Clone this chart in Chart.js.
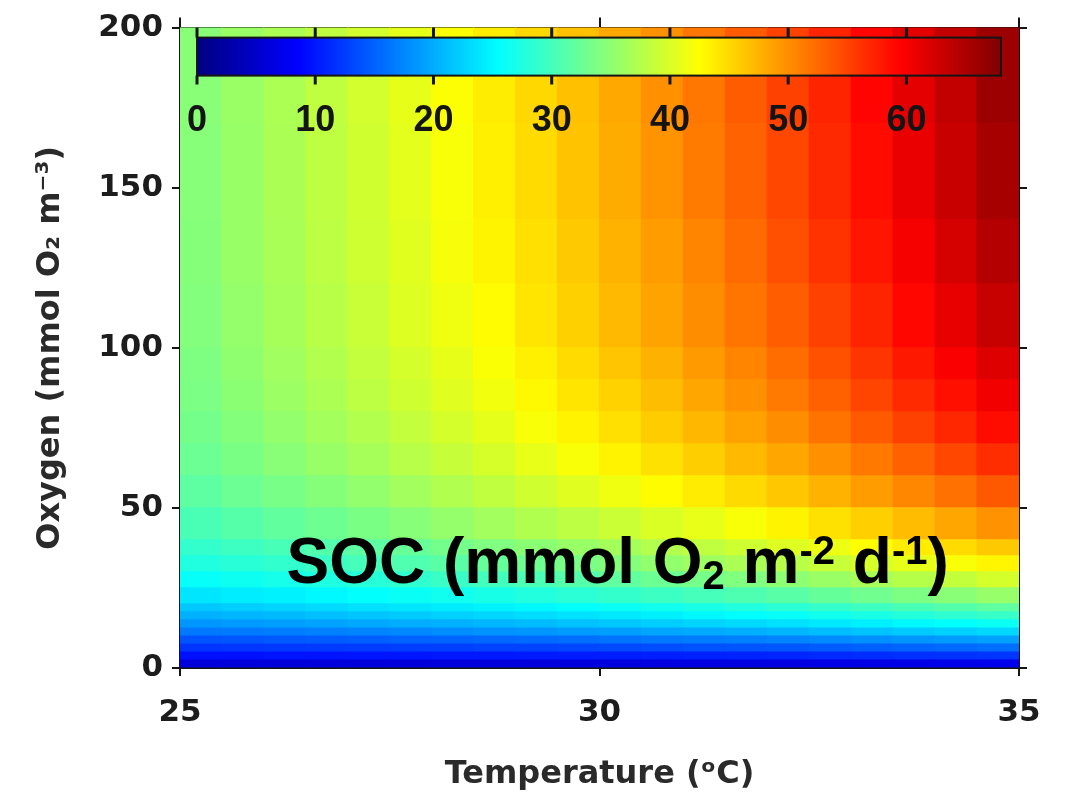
<!DOCTYPE html>
<html>
<head>
<meta charset="utf-8">
<script src="https://cdn.jsdelivr.net/npm/chart.js@4.4.1/dist/chart.umd.min.js"></script>
<style>
  html, body { margin: 0; padding: 0; background: #ffffff; }
  #wrap { width: 1071px; height: 794px; }
</style>
</head>
<body>
<div id="wrap"><canvas id="c" width="1071" height="794"></canvas></div>
<script>
// ---- data ----
const temperatureCenters = [25.25, 25.75, 26.25, 26.75, 27.25, 27.75, 28.25, 28.75, 29.25, 29.75,
                            30.25, 30.75, 31.25, 31.75, 32.25, 32.75, 33.25, 33.75, 34.25, 34.75];
const oxygenBandLow  = [0, 2.5, 5, 7.5, 10, 12.5, 15, 17.5, 20, 25, 30, 35, 40, 50, 60, 70, 80, 90, 100, 120, 140, 170];
const oxygenBandHigh = [2.5, 5, 7.5, 10, 12.5, 15, 17.5, 20, 25, 30, 35, 40, 50, 60, 70, 80, 90, 100, 120, 140, 170, 200];
// SOC (mmol O2 m-2 d-1): one row per oxygen band (bottom to top), one value per temperature column
const socGrid = [
  [6.0,6.0,6.0,6.1,6.1,6.1,6.2,6.2,6.2,6.3,6.3,6.4,6.4,6.5,6.6,6.7,6.8,6.9,7.0,7.2],
  [9.6,9.6,9.7,9.7,9.8,9.9,10.0,10.1,10.2,10.3,10.4,10.5,10.7,10.8,11.0,11.2,11.4,11.6,11.8,12.0],
  [12.0,12.1,12.2,12.3,12.4,12.6,12.7,12.9,13.0,13.2,13.4,13.6,13.9,14.1,14.3,14.6,14.9,15.2,15.5,15.8],
  [14.1,14.2,14.4,14.6,14.8,15.0,15.2,15.4,15.7,15.9,16.2,16.5,16.8,17.0,17.3,17.7,18.1,18.5,18.8,19.2],
  [16.5,16.7,16.9,17.1,17.4,17.6,17.9,18.2,18.5,18.8,19.1,19.5,19.8,20.2,20.6,21.1,21.5,22.0,22.4,22.9],
  [18.5,18.8,19.0,19.4,19.7,20.0,20.3,20.7,21.0,21.4,21.8,22.2,22.6,23.0,23.4,24.0,24.5,25.1,25.6,26.2],
  [20.3,20.6,20.9,21.3,21.6,22.0,22.4,22.8,23.2,23.6,24.0,24.5,25.0,25.5,26.0,26.6,27.2,27.9,28.5,29.2],
  [21.8,22.2,22.6,23.0,23.4,23.8,24.2,24.7,25.1,25.6,26.1,26.6,27.2,27.7,28.3,29.0,29.7,30.4,31.1,31.9],
  [23.8,24.2,24.6,25.1,25.6,26.1,26.6,27.1,27.7,28.3,28.9,29.5,30.1,30.7,31.4,32.2,33.0,33.8,34.6,35.5],
  [25.9,26.4,26.9,27.5,28.1,28.7,29.3,29.9,30.5,31.2,31.9,32.6,33.4,34.1,34.9,35.8,36.7,37.6,38.6,39.6],
  [27.6,28.2,28.8,29.4,30.1,30.8,31.5,32.2,32.9,33.6,34.4,35.2,36.1,36.9,37.8,38.8,39.9,40.9,42.0,43.1],
  [28.9,29.6,30.3,31.0,31.7,32.4,33.2,34.0,34.8,35.6,36.5,37.4,38.3,39.2,40.2,41.3,42.5,43.7,44.9,46.1],
  [30.4,31.2,32.0,32.8,33.6,34.5,35.4,36.3,37.2,38.0,39.0,40.0,41.0,42.1,43.2,44.5,45.7,47.0,48.4,49.8],
  [31.7,32.6,33.5,34.4,35.3,36.3,37.3,38.3,39.4,40.4,41.5,42.7,43.8,45.0,46.2,47.6,49.1,50.5,52.0,53.6],
  [32.6,33.6,34.6,35.6,36.6,37.7,38.7,39.8,41.0,42.1,43.3,44.5,45.8,47.1,48.4,49.9,51.5,53.1,54.8,56.5],
  [33.2,34.3,35.3,36.4,37.4,38.5,39.6,40.8,42.0,43.3,44.6,45.9,47.3,48.7,50.1,51.8,53.5,55.2,56.9,58.7],
  [33.7,34.8,35.9,37.0,38.0,39.2,40.4,41.6,42.9,44.2,45.5,46.9,48.4,49.9,51.4,53.1,54.9,56.7,58.5,60.4],
  [33.9,35.1,36.2,37.4,38.5,39.7,40.9,42.2,43.5,44.9,46.3,47.7,49.2,50.7,52.3,54.1,56.0,57.9,59.8,61.7],
  [34.2,35.4,36.6,37.8,38.9,40.2,41.5,42.8,44.2,45.6,47.1,48.6,50.1,51.7,53.3,55.2,57.1,59.1,61.1,63.2],
  [34.4,35.6,36.8,38.0,39.2,40.5,41.9,43.2,44.6,46.1,47.6,49.1,50.7,52.4,54.2,56.1,58.1,60.1,62.3,64.5],
  [34.5,35.7,36.9,38.2,39.4,40.7,42.1,43.5,44.9,46.5,48.0,49.6,51.3,53.0,54.8,56.8,58.8,60.9,63.1,65.4],
  [34.6,35.8,37.0,38.3,39.5,40.9,42.3,43.7,45.1,46.7,48.3,49.9,51.6,53.4,55.2,57.1,59.2,61.3,63.6,66.1]
];
const temperatureTicks = [25, 30, 35];
const oxygenTicks = [0, 50, 100, 150, 200];
const colorbarTicks = [0, 10, 20, 30, 40, 50, 60];
const colorbarMax = 68;
const xTitle = 'Temperature (\u1D52C)';
const yTitle = 'Oxygen (mmol O\u2082 m\u207B\u00B3)';
const annotationParts = [
  { text: 'SOC (mmol O', mode: 'n' },
  { text: '2', mode: 'sub' },
  { text: ' m', mode: 'n' },
  { text: '-2', mode: 'sup' },
  { text: ' d', mode: 'n' },
  { text: '-1', mode: 'sup' },
  { text: ')', mode: 'n' }
];
const annotationAnchor = { x: 26.27, y: 26.5 };

// ---- jet colour map ----
function clamp01(v) { return Math.max(0, Math.min(1, v)); }
function jet(v) {
  const t = clamp01(v / colorbarMax);
  const r = clamp01(1.5 - Math.abs(4 * t - 3));
  const g = clamp01(1.5 - Math.abs(4 * t - 2));
  const b = clamp01(1.5 - Math.abs(4 * t - 1));
  return `rgb(${Math.round(r * 255)},${Math.round(g * 255)},${Math.round(b * 255)})`;
}

const datasets = oxygenBandLow.map((lo, r) => ({
  label: 'O2 ' + lo + '-' + oxygenBandHigh[r],
  data: temperatureCenters.map(t => ({ x: t, y: [lo, oxygenBandHigh[r]] })),
  backgroundColor: socGrid[r].map(jet),
  borderWidth: 0,
  grouped: false,
  barPercentage: 1,
  categoryPercentage: 1,
  inflateAmount: 0.6
}));

const AXIS_FONT = "'DejaVu Sans', 'Liberation Sans', sans-serif";
const LABEL_FONT = "'Liberation Sans', Arial, sans-serif";
const frameColor = '#151515';

function drawRich(ctx, parts, x, y) {
  let cx = x;
  ctx.textAlign = 'left';
  ctx.textBaseline = 'alphabetic';
  parts.forEach(p => {
    const size = p.mode === 'n' ? 64 : 40;
    ctx.font = `bold ${size}px ${LABEL_FONT}`;
    const dy = p.mode === 'sub' ? 6 : (p.mode === 'sup' ? -19 : 0);
    ctx.fillText(p.text, cx, y + dy);
    cx += ctx.measureText(p.text).width;
  });
}

const overlayPlugin = {
  id: 'overlay',
  afterDraw(chart) {
    const { ctx, chartArea: ca, scales } = chart;
    ctx.save();
    // colour bar (legend)
    const cbL = ca.left + 17, cbR = cbL + 804, cbT = ca.top + 10, cbB = ca.top + 48;
    const grad = ctx.createLinearGradient(cbL, 0, cbR, 0);
    for (let i = 0; i <= 64; i++) grad.addColorStop(i / 64, jet(i / 64 * colorbarMax));
    ctx.fillStyle = grad;
    ctx.fillRect(cbL, cbT, cbR - cbL, cbB - cbT);
    ctx.strokeStyle = frameColor;
    ctx.lineWidth = 2;
    ctx.strokeRect(cbL, cbT, cbR - cbL, cbB - cbT);
    const px = v => cbL + v / colorbarMax * (cbR - cbL);
    ctx.lineWidth = 3;
    colorbarTicks.forEach(v => {
      const x = px(v);
      ctx.beginPath();
      ctx.moveTo(x, ca.top); ctx.lineTo(x, cbT);
      ctx.moveTo(x, cbB); ctx.lineTo(x, cbB + 9);
      ctx.stroke();
    });
    ctx.fillStyle = '#141414';
    ctx.font = `bold 36px ${LABEL_FONT}`;
    ctx.textAlign = 'center';
    ctx.textBaseline = 'middle';
    colorbarTicks.forEach(v => ctx.fillText(String(v), px(v), ca.top + 93));
    // annotation text
    ctx.fillStyle = '#000000';
    drawRich(ctx, annotationParts,
      scales.x.getPixelForValue(annotationAnchor.x),
      scales.y.getPixelForValue(annotationAnchor.y));
    ctx.restore();
  }
};

const tickGrid = (len) => ({
  drawOnChartArea: false, drawTicks: true, tickLength: len,
  color: frameColor, lineWidth: 2, offset: false
});
const frameBorder = { display: true, color: frameColor, width: 2 };

new Chart(document.getElementById('c'), {
  type: 'bar',
  data: { datasets },
  plugins: [overlayPlugin],
  options: {
    responsive: false,
    animation: false,
    events: [],
    devicePixelRatio: 1,
    layout: { padding: 0 },
    plugins: { legend: { display: false }, tooltip: { enabled: false } },
    scales: {
      x: {
        type: 'linear', position: 'bottom', min: 25, max: 35, offset: false, z: 1,
        border: frameBorder, grid: tickGrid(8),
        afterBuildTicks: s => { s.ticks = temperatureTicks.map(v => ({ value: v })); },
        ticks: { padding: 18, color: '#1c1c1c', maxRotation: 0, autoSkip: false,
                 font: { family: AXIS_FONT, size: 31, weight: 'bold' } },
        title: { display: true, text: xTitle, color: '#2a2a2a', padding: { top: 0, bottom: 0 },
                 font: { family: AXIS_FONT, size: 32, weight: 'bold' } },
        afterFit: s => { s.height = 126; }
      },
      x2: {
        type: 'linear', position: 'top', min: 25, max: 35, offset: false, z: 1,
        border: frameBorder, grid: tickGrid(10),
        afterBuildTicks: s => { s.ticks = temperatureTicks.map(v => ({ value: v })); },
        ticks: { display: false },
        afterFit: s => { s.height = 24; }
      },
      y: {
        type: 'linear', position: 'left', min: 0, max: 200, z: 1,
        border: frameBorder, grid: tickGrid(8),
        afterBuildTicks: s => { s.ticks = oxygenTicks.map(v => ({ value: v })); },
        ticks: { padding: 9, color: '#1c1c1c', autoSkip: false,
                 font: { family: AXIS_FONT, size: 31, weight: 'bold' } },
        title: { display: true, text: yTitle, color: '#2a2a2a', padding: { top: 31, bottom: 0 },
                 font: { family: AXIS_FONT, size: 32, weight: 'bold' } },
        afterFit: s => { s.width = 180; }
      },
      y2: {
        type: 'linear', position: 'right', min: 0, max: 200, z: 1,
        border: frameBorder, grid: tickGrid(8),
        afterBuildTicks: s => { s.ticks = oxygenTicks.map(v => ({ value: v })); },
        ticks: { display: false },
        afterFit: s => { s.width = 52; }
      }
    }
  }
});
</script>
</body>
</html>
